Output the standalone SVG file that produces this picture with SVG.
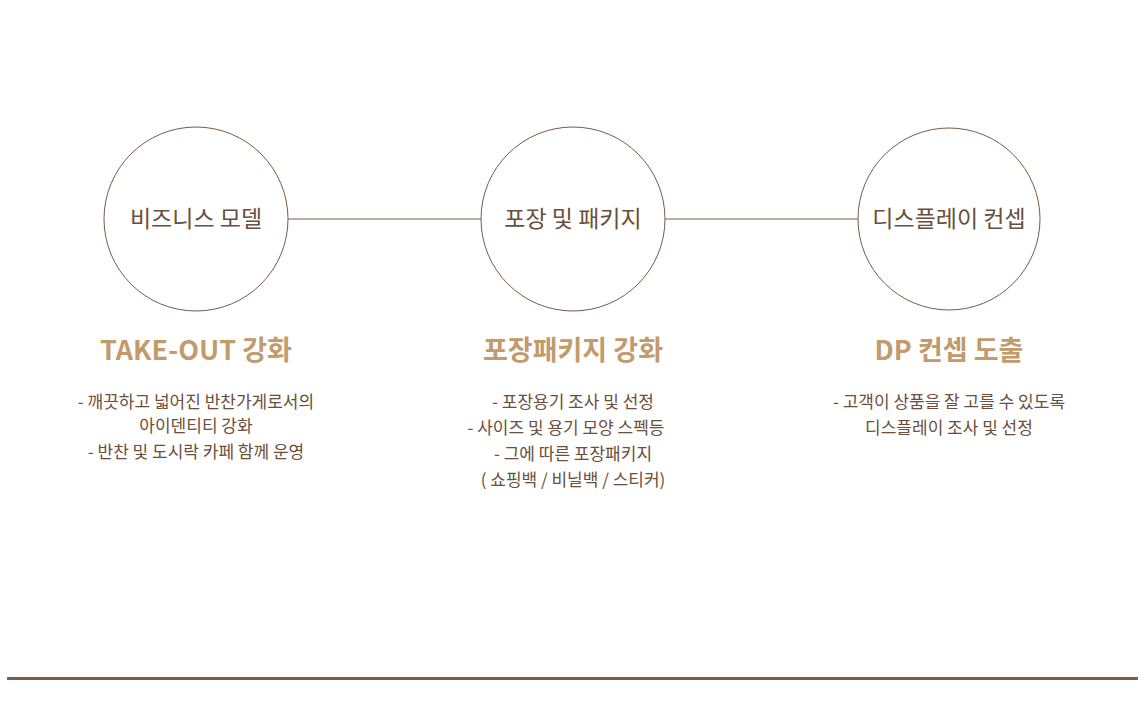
<svg xmlns="http://www.w3.org/2000/svg" width="1145" height="705" viewBox="0 0 1145 705">
<style>
.c{fill:#fff;stroke:#7a5a45;stroke-width:1}
.lbl{font-family:"Noto Sans CJK KR","Noto Sans",sans-serif;font-size:23px;fill:#6b4e3b;text-anchor:middle}
.ttl{font-family:"Noto Sans CJK KR","Noto Sans",sans-serif;font-size:27px;font-weight:bold;fill:#c29a6c;text-anchor:middle}
.txt{font-family:"Noto Sans CJK KR","Noto Sans",sans-serif;font-size:17px;fill:#6b4e3b;text-anchor:middle}
.ln{stroke:#7a5a45;stroke-width:1}
</style>
<rect width="1145" height="705" fill="#fff"/>
<g id="connectors">
<line class="ln" x1="288" y1="219" x2="481" y2="219"/>
<line class="ln" x1="665" y1="219" x2="858" y2="219"/>
</g>
<g id="node1">
<circle class="c" cx="196" cy="219" r="92"/>
<text class="lbl" x="196" y="227">비즈니스 모델</text>
<text class="ttl" x="196" y="360">TAKE-OUT 강화</text>
<text class="txt" x="196" y="408">- 깨끗하고 넓어진 반찬가게로서의</text>
<text class="txt" x="196" y="432">아이덴티티 강화</text>
<text class="txt" x="196" y="458">- 반찬 및 도시락 카페 함께 운영</text>
</g>
<g id="node2">
<circle class="c" cx="573" cy="219" r="92"/>
<text class="lbl" x="573" y="227">포장 및 패키지</text>
<text class="ttl" x="573" y="360">포장패키지 강화</text>
<text class="txt" x="573" y="408">- 포장용기 조사 및 선정</text>
<text class="txt" x="566" y="434">- 사이즈 및 용기 모양 스펙등</text>
<text class="txt" x="573" y="460">- 그에 따른 포장패키지</text>
<text class="txt" x="573" y="486">( 쇼핑백 / 비닐백 / 스티커)</text>
</g>
<g id="node3">
<circle class="c" cx="949" cy="219" r="91"/>
<text class="lbl" x="949" y="227">디스플레이 컨셉</text>
<text class="ttl" x="949" y="360">DP 컨셉 도출</text>
<text class="txt" x="949" y="408">- 고객이 상품을 잘 고를 수 있도록</text>
<text class="txt" x="949" y="434">디스플레이 조사 및 선정</text>
</g>
<line x1="7" y1="678.5" x2="1138" y2="678.5" stroke="#7f5c42" stroke-width="3"/>
</svg>
